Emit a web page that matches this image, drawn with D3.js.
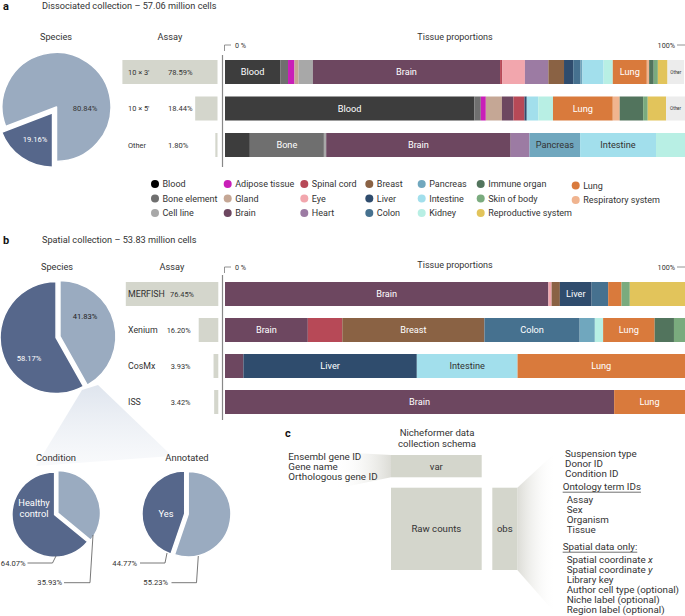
<!DOCTYPE html>
<html>
<head>
<meta charset="utf-8">
<script src="https://cdn.jsdelivr.net/npm/d3@7"></script>
<style>
  body { margin: 0; background: #fff; }
  text { font-family: Roboto, "Noto Sans", sans-serif; fill: #333; }
</style>
</head>
<body>
<div id="chart"></div>
<script>
// tissue palette (legend order)
const tissueNames = ["Blood", "Bone element", "Cell line", "Adipose tissue", "Gland", "Brain",
  "Spinal cord", "Eye", "Heart", "Breast", "Liver", "Colon", "Pancreas", "Intestine", "Kidney",
  "Immune organ", "Skin of body", "Reproductive system", "Lung", "Respiratory system", "Other"];
const tissueColors = ["#3d3d3d", "#6f6f6f", "#a8a8a8", "#c91fb8", "#c5a795", "#6d4760",
  "#b74957", "#f2a6ad", "#9c7ba3", "#8a6244", "#2f4c6d", "#46718f", "#70a7be", "#a2dfec", "#b8efe4",
  "#52745d", "#7aab7e", "#e2c45b", "#d97a3c", "#f0b48f", "#ececec"];
const shortNames = { "Bone element": "Bone" };
const darkLabelTissues = ["Pancreas", "Intestine", "Kidney", "Other"];

// a: dissociated collection
const dissSpecies = [19.16, 80.84];
const dissAssays = ["10 × 3'", "10 × 5'", "Other"];
const dissAssayPct = [78.59, 18.44, 1.80];

const diss10x3Tissues = ["Blood", "Bone element", "Adipose tissue", "Gland", "Cell line", "Brain",
  "Spinal cord", "Eye", "Heart", "Breast", "Liver", "Colon", "Pancreas", "Intestine", "Kidney",
  "Lung", "Respiratory system", "Immune organ", "Skin of body", "Reproductive system", "Other"];
const diss10x3Values = [12.0, 1.7, 1.4, 0.9, 3.1, 40.7, 0.5, 4.9, 5.1, 3.4, 2.0, 1.6, 0.4, 4.6, 2.0,
  7.4, 0.5, 1.0, 0.9, 2.1, 3.6];
const diss10x3Labels = ["Blood", "Brain", "Lung", "Other"];

const diss10x5Tissues = ["Blood", "Bone element", "Adipose tissue", "Gland", "Brain", "Spinal cord",
  "Liver", "Intestine", "Kidney", "Lung", "Respiratory system", "Immune organ", "Skin of body",
  "Reproductive system", "Other"];
const diss10x5Values = [54.2, 1.4, 1.1, 3.5, 2.5, 2.4, 0.5, 2.5, 3.2, 13.0, 1.5, 5.1, 1.0, 4.0, 4.1];
const diss10x5Labels = ["Blood", "Lung", "Other"];

const dissOtherTissues = ["Blood", "Bone element", "Cell line", "Brain", "Heart", "Pancreas", "Intestine", "Kidney"];
const dissOtherValues = [5.4, 16.1, 0.5, 40.1, 4.1, 11.0, 16.5, 6.3];
const dissOtherLabels = ["Bone element", "Brain", "Pancreas", "Intestine"];

// b: spatial collection
const spatSpecies = [41.83, 58.17];
const spatAssays = ["MERFISH", "Xenium", "CosMx", "ISS"];
const spatAssayPct = [76.45, 16.20, 3.93, 3.42];

const merfishTissues = ["Brain", "Eye", "Breast", "Liver", "Colon", "Lung", "Skin of body", "Reproductive system"];
const merfishValues = [70.3, 0.7, 1.8, 6.9, 3.6, 2.9, 1.8, 12.0];
const merfishLabels = ["Brain", "Liver"];

const xeniumTissues = ["Brain", "Spinal cord", "Breast", "Colon", "Pancreas", "Kidney", "Lung", "Immune organ", "Skin of body"];
const xeniumValues = [18.0, 7.5, 30.9, 20.7, 3.3, 1.8, 11.2, 4.2, 2.4];
const xeniumLabels = ["Brain", "Breast", "Colon", "Lung"];

const cosmxTissues = ["Brain", "Liver", "Intestine", "Lung"];
const cosmxValues = [4.0, 37.7, 21.9, 36.4];
const cosmxLabels = ["Liver", "Intestine", "Lung"];

const issTissues = ["Brain", "Lung"];
const issValues = [84.6, 15.4];
const issLabels = ["Brain", "Lung"];

const conditionValues = [35.93, 64.07];
const annotatedValues = [55.23, 44.77];

// c: schema text
const varFields = ["Ensembl gene ID", "Gene name", "Orthologous gene ID"];
const obsFields = ["Suspension type", "Donor ID", "Condition ID"];
const ontologyFields = ["Assay", "Sex", "Organism", "Tissue"];
const spatialFields = ["Spatial coordinate x", "Spatial coordinate y", "Library key",
  "Author cell type (optional)", "Niche label (optional)", "Region label (optional)"];

const pieLight = "#9aabc0", pieDark = "#56678b", assayFill = "#d4d6cc";

const W = 685, H = 616;
const svg = d3.select("#chart").append("svg").attr("width", W).attr("height", H);
const defs = svg.append("defs");
const color = d3.scaleOrdinal().domain(tissueNames).range(tissueColors);

function grad(id, x1, y1, x2, y2, stops) {
  const g = defs.append("linearGradient").attr("id", id)
    .attr("x1", x1).attr("y1", y1).attr("x2", x2).attr("y2", y2);
  stops.forEach(s => g.append("stop").attr("offset", s[0]).attr("stop-color", s[1]).attr("stop-opacity", s[2]));
}
grad("cone", 0, 0, 0, 1, [[0, "#dfe5ee", 1], [1, "#f4f6f9", 0.6]]);
grad("coneL", 0, 0, 1, 0, [[0, "#ffffff", 0], [1, "#dcdcd6", 1]]);
grad("coneR", 0, 0, 1, 0, [[0, "#dcdcd6", 1], [1, "#ffffff", 0]]);

function txt(x, y, s, size, opts = {}) {
  return svg.append("text").attr("x", x).attr("y", y).attr("dy", "0.35em")
    .attr("text-anchor", opts.anchor || "start")
    .style("font-size", size + "px")
    .style("font-weight", opts.weight || 400)
    .style("fill", opts.fill || "#333")
    .text(s);
}

function drawPie(values, colors, cx, cy, r, start, offsets) {
  const pie = d3.pie().sort(null).startAngle(start).endAngle(start + 2 * Math.PI)(values);
  const arc = d3.arc().innerRadius(0).outerRadius(r);
  const g = svg.append("g").attr("transform", `translate(${cx},${cy})`);
  g.selectAll("path").data(pie).join("path")
    .attr("transform", (d, i) => {
      const a = (d.startAngle + d.endAngle) / 2;
      return `translate(${offsets[i] * Math.sin(a)},${-offsets[i] * Math.cos(a)})`;
    })
    .attr("d", arc)
    .attr("fill", (d, i) => colors[i])
    .attr("stroke", "#fff").attr("stroke-width", 1.5).attr("stroke-linejoin", "round");
}

function stackedBars(rows, yScale, xScale) {
  rows.forEach(row => {
    let acc = 0;
    const segs = row.tissues.map((t, i) => {
      const s = { tissue: t, x0: acc, x1: acc + row.values[i] };
      acc += row.values[i];
      return s;
    });
    const y = yScale(row.name), h = yScale.bandwidth();
    const g = svg.append("g");
    g.selectAll("rect").data(segs).join("rect")
      .attr("x", d => xScale(d.x0)).attr("y", y)
      .attr("width", d => Math.max(0, xScale(d.x1) - xScale(d.x0)))
      .attr("height", h)
      .attr("fill", d => color(d.tissue));
    g.selectAll("text").data(segs.filter(d => row.labels.includes(d.tissue))).join("text")
      .attr("x", d => (xScale(d.x0) + xScale(d.x1)) / 2)
      .attr("y", y + h / 2).attr("dy", "0.35em")
      .attr("text-anchor", "middle")
      .style("font-size", d => d.tissue === "Other" ? "4.5px" : "9.2px")
      .style("fill", d => darkLabelTissues.includes(d.tissue) ? "#333" : "#fff")
      .text(d => shortNames[d.tissue] || d.tissue);
  });
}

function assayBars(names, pcts, yScale, right, opts) {
  const x = d3.scaleLinear().domain([0, 100]).range([0, 121]);
  const g = svg.append("g");
  g.selectAll("rect").data(names).join("rect")
    .attr("x", (d, i) => right - x(pcts[i])).attr("y", d => yScale(d))
    .attr("width", (d, i) => x(pcts[i])).attr("height", yScale.bandwidth())
    .attr("fill", assayFill);
  names.forEach((n, i) => {
    const yc = yScale(n) + yScale.bandwidth() / 2;
    txt(128, yc, n, opts.nameSize);
    txt(opts.pctX[i], yc, pcts[i].toFixed(2) + "%", opts.pctSize);
  });
}

function proportionAxis(yTitle, yTicks, lineTop, lineBottom) {
  txt(455, yTitle, "Tissue proportions", 9, { anchor: "middle" });
  txt(235, yTicks, "0 %", 7.2);
  txt(675, yTicks, "100%", 7.2, { anchor: "end" });
  svg.append("path").attr("d", `M231,${yTicks} H224.5 V${yTicks + 6}`)
    .attr("fill", "none").attr("stroke", "#777").attr("stroke-width", 0.8);
  svg.append("path").attr("d", `M677,${yTicks} H685`)
    .attr("fill", "none").attr("stroke", "#777").attr("stroke-width", 0.8);
  svg.append("line").attr("x1", 222.5).attr("x2", 222.5).attr("y1", lineTop).attr("y2", lineBottom)
    .attr("stroke", "#888").attr("stroke-width", 1.2);
}

const xTissue = d3.scaleLinear().domain([0, 100]).range([225, 685]);

// ---------- panel a ----------
txt(3, 6, "a", 11, { weight: 700, fill: "#111" });
txt(42, 6, "Dissociated collection – 57.06 million cells", 9.2);
txt(56, 37, "Species", 9.2, { anchor: "middle" });
txt(170, 37, "Assay", 9.2, { anchor: "middle" });

drawPie(dissSpecies, [pieDark, pieLight], 56.5, 107, 54.5, Math.PI, [7, 0]);
txt(35, 139, dissSpecies[0].toFixed(2) + "%", 7.6, { anchor: "middle", fill: "#fff" });
txt(85, 108, dissSpecies[1].toFixed(2) + "%", 7.6, { anchor: "middle" });

const yDiss = d3.scaleBand().domain(dissAssays).range([60, 157]).paddingInner(12.5 / 36.5);
assayBars(dissAssays, dissAssayPct, yDiss, 217.5, { nameSize: 7.4, pctSize: 7.6, pctX: [168, 168, 168] });
proportionAxis(37, 45, 55, 167);
stackedBars([
  { name: dissAssays[0], tissues: diss10x3Tissues, values: diss10x3Values, labels: diss10x3Labels },
  { name: dissAssays[1], tissues: diss10x5Tissues, values: diss10x5Values, labels: diss10x5Labels },
  { name: dissAssays[2], tissues: dissOtherTissues, values: dissOtherValues, labels: dissOtherLabels }
], yDiss, xTissue);

// legend
const legendCols = [155, 227.7, 304.3, 369.3, 421.7, 480.7, 575.7];
const legendRows = d3.scalePoint().domain([0, 1, 2]).range([184, 213]);
const legendItems = tissueNames.filter(t => t !== "Other");
const lg = svg.append("g").selectAll("g").data(legendItems).join("g")
  .attr("transform", (d, i) => `translate(${legendCols[Math.floor(i / 3)]},${legendRows(i % 3) + (i >= 18 ? 1.5 : 0)})`);
lg.append("circle").attr("r", 4).attr("fill", d => d === "Blood" ? "#000" : color(d));
lg.append("text").attr("x", 7.5).attr("dy", "0.35em").style("font-size", "9px").text(d => d);

// ---------- panel b ----------
txt(3, 240, "b", 11, { weight: 700, fill: "#111" });
txt(42, 240, "Spatial collection – 53.83 million cells", 9.2);
txt(57, 267, "Species", 9.2, { anchor: "middle" });
txt(172, 267, "Assay", 9.2, { anchor: "middle" });

// zoom cone from the species pie to the two sub pies
svg.append("path").attr("d", "M82,390 L98,385 L172,456 L36,466 Z").attr("fill", "url(#cone)");

drawPie(spatSpecies, [pieLight, pieDark], 58, 337, 56, 0, [2, 2]);
txt(85, 316, spatSpecies[0].toFixed(2) + "%", 7.6, { anchor: "middle", fill: "#222" });
txt(29, 358, spatSpecies[1].toFixed(2) + "%", 7.6, { anchor: "middle", fill: "#fff" });

const ySpat = d3.scaleBand().domain(spatAssays).range([282, 414]).paddingInner(1 / 3);
assayBars(spatAssays, spatAssayPct, ySpat, 218.3, { nameSize: 8.8, pctSize: 7.4, pctX: [170, 166.7, 170.7, 170.7] });
proportionAxis(265, 267, 275, 420);
stackedBars([
  { name: spatAssays[0], tissues: merfishTissues, values: merfishValues, labels: merfishLabels },
  { name: spatAssays[1], tissues: xeniumTissues, values: xeniumValues, labels: xeniumLabels },
  { name: spatAssays[2], tissues: cosmxTissues, values: cosmxValues, labels: cosmxLabels },
  { name: spatAssays[3], tissues: issTissues, values: issValues, labels: issLabels }
], ySpat, xTissue);

// condition / annotated pies
txt(56, 458, "Condition", 9.4, { anchor: "middle" });
txt(187, 458, "Annotated", 9.4, { anchor: "middle" });
drawPie(conditionValues, [pieLight, pieDark], 56, 514, 42.7, 0, [2, 1.5]);
drawPie(annotatedValues, [pieLight, pieDark], 186.7, 514, 42.7, 0, [1.5, 2]);
txt(34, 503, "Healthy", 9.3, { anchor: "middle", fill: "#fff" });
txt(34, 513.5, "control", 9.3, { anchor: "middle", fill: "#fff" });
txt(166, 514, "Yes", 9.3, { anchor: "middle", fill: "#fff" });

const leaders = [
  { t: conditionValues[1], tx: 25.5, y: 563, pts: [[27.5, 563], [52.5, 563], [56, 556]] },
  { t: conditionValues[0], tx: 62, y: 582.7, pts: [[64, 582.7], [90, 582.7], [93, 535]] },
  { t: annotatedValues[1], tx: 137, y: 563, pts: [[140, 563], [165, 563], [167, 553]] },
  { t: annotatedValues[0], tx: 168, y: 582.7, pts: [[171.5, 582.7], [196.5, 582.7], [198.3, 556]] }
];
leaders.forEach(l => {
  svg.append("path").attr("d", d3.line()(l.pts)).attr("fill", "none")
    .attr("stroke", "#555").attr("stroke-width", 0.8);
  txt(l.tx, l.y, l.t.toFixed(2) + "%", 7.6, { anchor: "end" });
});

// ---------- panel c ----------
txt(285, 433, "c", 11, { weight: 700, fill: "#111" });
txt(437, 433, "Nicheformer data", 9.6, { anchor: "middle" });
txt(437, 444, "collection schema", 9.6, { anchor: "middle" });

svg.append("path").attr("d", "M335,452 L391,455 L391,477.3 L335,489 Z").attr("fill", "url(#coneL)");
svg.append("path").attr("d", "M517.3,487.7 L556,452 L556,614 L517.3,570 Z").attr("fill", "url(#coneR)");

const boxes = [
  { x: 391, y: 455, w: 90.7, h: 22.3, label: "var" },
  { x: 391, y: 487.7, w: 90.7, h: 82.3, label: "Raw counts" },
  { x: 492.3, y: 487.7, w: 25, h: 82.3, label: "obs" }
];
boxes.forEach(b => {
  svg.append("rect").attr("x", b.x).attr("y", b.y).attr("width", b.w).attr("height", b.h).attr("fill", assayFill);
  txt(b.x + b.w / 2, b.y + b.h / 2, b.label, 9.6, { anchor: "middle" });
});

varFields.forEach((f, i) => txt(288.3, 456.7 + i * 10, f, 9.8));
obsFields.forEach((f, i) => txt(565, 453.3 + i * 10, f, 9.8));
function underlined(x, y, s) {
  const t = txt(x, y, s, 9.8);
  const w = t.node().getComputedTextLength();
  svg.append("line").attr("x1", x).attr("x2", x + w).attr("y1", y + 5.5).attr("y2", y + 5.5)
    .attr("stroke", "#333").attr("stroke-width", 0.7);
}
underlined(562.7, 486.7, "Ontology term IDs");
ontologyFields.forEach((f, i) => txt(566.7, 500 + i * 10, f, 9.8));
underlined(562.7, 546.7, "Spatial data only:");
spatialFields.forEach((f, i) => {
  const t = txt(566.7, 560 + i * 10, "", 9.8);
  if (f.startsWith("Spatial coordinate")) {
    t.append("tspan").text("Spatial coordinate ");
    t.append("tspan").style("font-style", "italic").text(f.slice(-1));
  } else t.text(f);
});
</script>
</body>
</html>
